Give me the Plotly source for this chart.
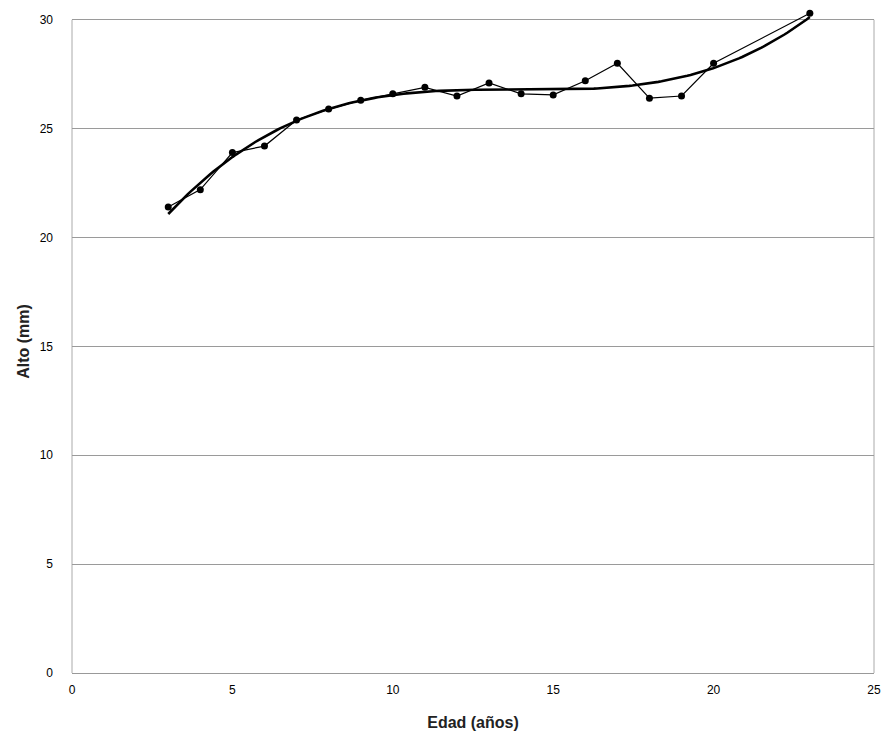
import numpy as np
import plotly.graph_objects as go

# Edad (años) y alto medido (mm)
edad = [3, 4, 5, 6, 7, 8, 9, 10, 11, 12, 13, 14, 15, 16, 17, 18, 19, 20, 23]
alto = [21.4, 22.2, 23.9, 24.2, 25.4, 25.9, 26.3, 26.6, 26.9, 26.5, 27.1, 26.6,
        26.55, 27.2, 28.0, 26.4, 26.5, 28.0, 30.3]

x_ticks = [0, 5, 10, 15, 20, 25]
y_ticks = [0, 5, 10, 15, 20, 25, 30]

# Tendencia polinómica de grado 3
coef = np.polyfit(edad, alto, 3)
xs = np.linspace(min(edad), max(edad), 200)
ys = np.polyval(coef, xs)

fig = go.Figure()
fig.add_trace(go.Scatter(
    x=edad, y=alto, mode="lines+markers",
    line=dict(color="black", width=1.2),
    marker=dict(color="black", size=7),
    cliponaxis=False, showlegend=False))
fig.add_trace(go.Scatter(
    x=xs, y=ys, mode="lines",
    line=dict(color="black", width=2.6),
    cliponaxis=False, showlegend=False))

font_axis = dict(family="Liberation Sans, Arial, sans-serif", size=12, color="black")
fig.update_layout(
    width=889, height=737,
    margin=dict(l=72, r=8, t=10, b=64),
    paper_bgcolor="white", plot_bgcolor="white",
    xaxis=dict(range=[0, 25], tickvals=x_ticks, showgrid=False, zeroline=False,
               showline=True, linecolor="#999999", linewidth=1, mirror=False,
               tickfont=font_axis, ticks="", ticklabelstandoff=6,
               title=dict(text="<b>Edad (años)</b>", standoff=20,
                          font=dict(family="Liberation Sans, Arial, sans-serif", size=16, color="#222"))),
    yaxis=dict(range=[0, 30.45], tickvals=y_ticks, showgrid=True, gridcolor="#9a9a9a",
               gridwidth=1, zeroline=False, showline=False,
               tickfont=font_axis, ticks="", ticklabelstandoff=18,
               title=dict(text="<b>Alto (mm)</b>", standoff=6,
                          font=dict(family="Liberation Sans, Arial, sans-serif", size=16, color="#222"))),
)
# bordes izquierdo y derecho del área de trazado, hasta la línea de 30
for xb in (0, 1):
    fig.add_shape(type="line", xref="paper", yref="y", x0=xb, x1=xb, y0=0, y1=30,
                  line=dict(color="#aaaaaa", width=1), layer="below")

fig.write_html("out.html")
